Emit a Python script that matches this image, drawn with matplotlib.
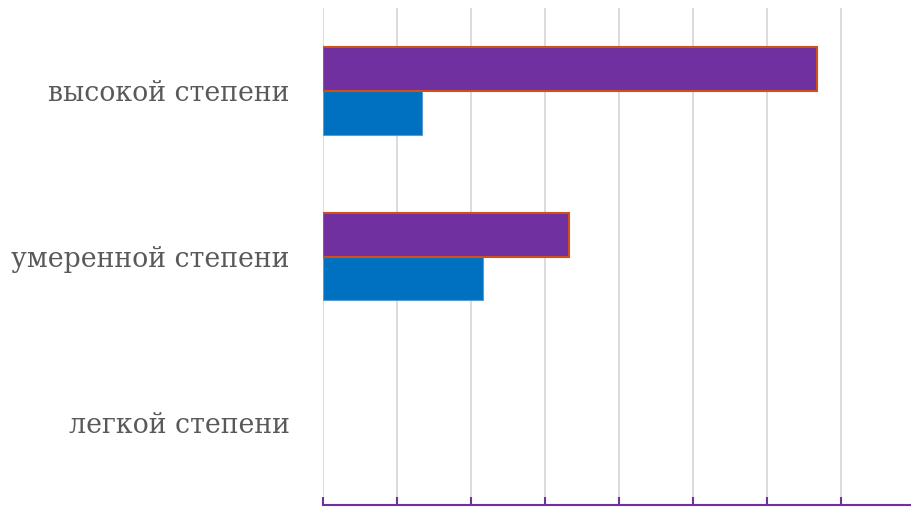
import matplotlib.pyplot as plt
import numpy as np

# %% data
categories = ['легкой степени', 'умеренной степени', 'высокой степени']
series_blue = [0, 2.16, 1.34]
series_purple = [0, 3.33, 6.68]
x_max = 8

# %% plot
fig = plt.figure(figsize=(9.12, 5.07), dpi=100)
ax = fig.add_axes([323 / 912, 2 / 507, 592 / 912, 497 / 507])

y = np.arange(len(categories))
h = 0.265
# no outline on empty bars
lw_blue = [0.8 if v > 0 else 0 for v in series_blue]
lw_purple = [1.5 if v > 0 else 0 for v in series_purple]
ax.barh(y - h / 2, series_blue, height=h, color='#0070C0',
        edgecolor='#5B9BD5', linewidth=lw_blue, zorder=3)
ax.barh(y + h / 2, series_purple, height=h, color='#7030A0',
        edgecolor='#D0501A', linewidth=lw_purple, zorder=3)

ax.set_xlim(0, x_max)
ax.set_ylim(-0.5, len(categories) - 0.5)
ax.set_xticks(np.arange(0, x_max + 1, 1))
ax.set_xticklabels([])
ax.xaxis.grid(True, color='#D9D9D9', linewidth=1.3, zorder=0)
ax.tick_params(axis='x', direction='in', length=6, width=1.5, color='#7030A0')

ax.set_yticks(y)
ax.set_yticklabels(categories, fontsize=19.3, color='#595959', family='DejaVu Serif')
ax.tick_params(axis='y', length=0, pad=24)

for side in ['top', 'right', 'left']:
    ax.spines[side].set_visible(False)
ax.spines['bottom'].set_color('#7030A0')
ax.spines['bottom'].set_linewidth(1.5)

fig.savefig('out.png', dpi=100)
